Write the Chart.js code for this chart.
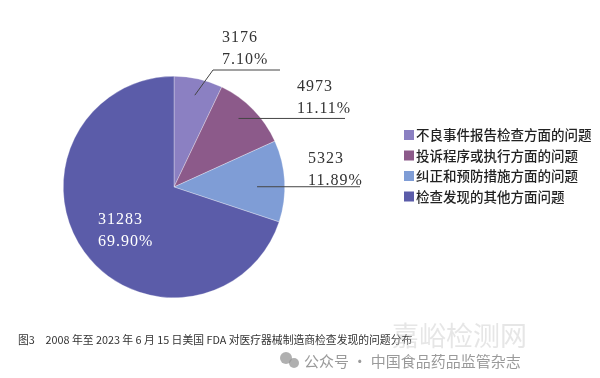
<!DOCTYPE html>
<html>
<head>
<meta charset="utf-8">
<script src="https://cdn.jsdelivr.net/npm/chart.js@4"></script>
<style>
  html, body { margin: 0; padding: 0; background: #fff; }
  #wrap { position: relative; width: 600px; height: 378px; }
</style>
</head>
<body>
<div id="wrap"><canvas id="chart" width="600" height="378"></canvas></div>
<script>
// Chart data
const categories = ["不良事件报告检查方面的问题", "投诉程序或执行方面的问题", "纠正和预防措施方面的问题", "检查发现的其他方面问题"];
const counts = [3176, 4973, 5323, 31283];
const percents = ["7.10%", "11.11%", "11.89%", "69.90%"];
const colors = ["#8b80c2", "#8c5a8a", "#7f9dd6", "#5b5ca9"];
const caption = "图3　2008 年至 2023 年 6 月 15 日美国 FDA 对医疗器械制造商检查发现的问题分布";

// Label layout: leader start radius fraction / angle shift, elbow, line end, text position
const labelLayout = [
  { r: 0.85, shift: 0, elbow: [213, 70], end: 280, text: [222, 42] },
  { r: 0.85, shift: -0.04, elbow: null, end: 345, text: [297, 91] },
  { r: 0.75, shift: 0.05, elbow: null, end: 360, text: [308, 163] },
  { inside: true, text: [98, 224] }
];

const labelsPlugin = {
  id: "labels",
  afterDraw(chart) {
    const ctx = chart.ctx;
    const arcs = chart.getDatasetMeta(0).data;
    ctx.save();
    arcs.forEach((arc, i) => {
      const L = labelLayout[i];
      if (!L.inside) {
        const mid = (arc.startAngle + arc.endAngle) / 2 + L.shift;
        const sx = arc.x + Math.cos(mid) * arc.outerRadius * L.r;
        const sy = arc.y + Math.sin(mid) * arc.outerRadius * L.r;
        ctx.strokeStyle = "#444";
        ctx.lineWidth = 1;
        ctx.beginPath();
        ctx.moveTo(sx, sy);
        if (L.elbow) {
          ctx.lineTo(L.elbow[0], L.elbow[1]);
          ctx.lineTo(L.end, L.elbow[1]);
        } else {
          ctx.lineTo(L.end, sy);
        }
        ctx.stroke();
      }
      ctx.fillStyle = L.inside ? "#fff" : "#333";
      ctx.font = "16px 'Liberation Serif', serif";
      ctx.textAlign = "left";
      ctx.textBaseline = "alphabetic";
      if (ctx.letterSpacing !== undefined) ctx.letterSpacing = "1px";
      ctx.fillText(String(counts[i]), L.text[0], L.text[1]);
      ctx.fillText(percents[i], L.text[0], L.text[1] + 22);
    });

    // legend
    if (ctx.letterSpacing !== undefined) ctx.letterSpacing = "0px";
    ctx.font = "500 13.5px 'Noto Sans CJK SC', sans-serif";
    ctx.textBaseline = "middle";
    categories.forEach((c, i) => {
      const y = 135 + i * 20.5;
      ctx.fillStyle = colors[i];
      ctx.fillRect(404, y - 5, 10, 10);
      ctx.fillStyle = "#222";
      ctx.fillText(c, 416, y);
    });

    // caption
    ctx.font = "10.8px 'Noto Sans CJK SC', sans-serif";
    ctx.fillStyle = "#333";
    ctx.fillText(caption, 18, 340);

    // watermark
    ctx.font = "27px 'Noto Sans CJK SC', sans-serif";
    ctx.fillStyle = "rgba(200,200,200,0.45)";
    ctx.fillText("嘉峪检测网", 392, 336);
    ctx.font = "15px 'Noto Sans CJK SC', sans-serif";
    ctx.fillStyle = "rgba(120,120,120,0.75)";
    ctx.fillText("公众号 · 中国食品药品监管杂志", 304, 361);
    ctx.fillStyle = "rgba(150,150,150,0.75)";
    ctx.beginPath(); ctx.arc(286, 358, 6, 0, Math.PI * 2); ctx.fill();
    ctx.beginPath(); ctx.arc(294, 363, 5, 0, Math.PI * 2); ctx.fill();
    ctx.restore();
  }
};

new Chart(document.getElementById("chart"), {
  type: "pie",
  data: {
    labels: categories,
    datasets: [{
      data: counts,
      backgroundColor: colors,
      borderColor: "rgba(255,255,255,0.6)",
      borderWidth: 0.5
    }]
  },
  options: {
    responsive: false,
    animation: false,
    layout: { padding: { left: 63, right: 315, top: 76, bottom: 80 } },
    plugins: { legend: { display: false }, tooltip: { enabled: false } }
  },
  plugins: [labelsPlugin]
});
</script>
</body>
</html>
